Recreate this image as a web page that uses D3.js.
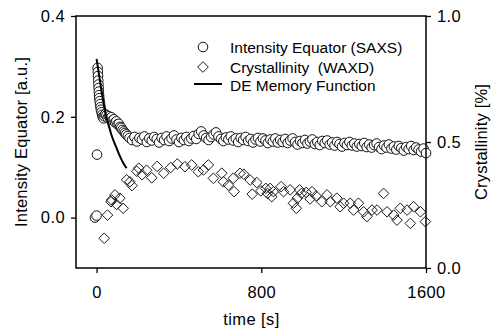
<!DOCTYPE html>
<html>
<head>
<meta charset="utf-8">
<script src="https://cdnjs.cloudflare.com/ajax/libs/d3/7.8.5/d3.min.js"></script>
<style>
  body { margin: 0; background: #fff; }
  svg { display: block; font-family: "Liberation Sans", Arial, sans-serif; }
</style>
</head>
<body>
<svg id="chart" width="495" height="331"></svg>
<script>
// SAXS intensity on the equator, [time s, a.u.]
var saxs = [
  [-8,0.000],[0,0.004],[2,0.125],[5,0.297],[6,0.289],[7,0.281],[8,0.272],[9,0.264],
  [10,0.257],[11,0.250],[12,0.243],[13,0.237],[15,0.231],[17,0.225],[19,0.219],[21,0.214],
  [24,0.209],[27,0.204],[30,0.200],[34,0.197],[38,0.201],[42,0.205],[48,0.203],[54,0.198],
  [60,0.201],[66,0.196],[72,0.199],[78,0.193],[84,0.195],[90,0.189],[96,0.191],[102,0.185],
  [108,0.186],[114,0.180],[120,0.178],[126,0.174],[132,0.171],[138,0.168],[144,0.165],
  [152,0.162],[160,0.158],
  [172,0.154],[184,0.160],[196,0.151],[208,0.158],[220,0.155],[232,0.161],[244,0.150],
  [256,0.157],[268,0.153],[280,0.160],[292,0.156],[304,0.149],[316,0.158],[328,0.154],
  [340,0.161],[352,0.152],[364,0.157],[376,0.163],[388,0.155],[400,0.150],[412,0.158],
  [424,0.154],[436,0.160],[448,0.152],[460,0.157],[472,0.162],[484,0.156],[496,0.166],
  [508,0.171],[520,0.163],[532,0.158],[544,0.154],[556,0.160],[568,0.165],[580,0.169],
  [592,0.161],[604,0.156],[616,0.152],[628,0.159],[640,0.155],[652,0.161],[664,0.153],
  [676,0.157],[688,0.150],[700,0.158],[712,0.154],[724,0.160],[736,0.152],[748,0.156],
  [760,0.149],[772,0.155],[784,0.158],[796,0.151],[808,0.157],[820,0.153],[832,0.148],
  [844,0.155],[856,0.151],[868,0.157],[880,0.149],[892,0.154],[904,0.150],[916,0.156],
  [928,0.148],[940,0.153],[952,0.157],[964,0.150],[976,0.145],[988,0.152],[1000,0.148],
  [1012,0.154],[1024,0.147],[1036,0.151],[1048,0.155],[1060,0.146],[1072,0.150],[1084,0.144],
  [1096,0.152],[1108,0.148],[1120,0.153],[1132,0.145],[1144,0.149],[1156,0.143],[1168,0.150],
  [1180,0.146],[1192,0.141],[1204,0.148],[1216,0.144],[1228,0.150],[1240,0.143],[1252,0.147],
  [1264,0.141],[1276,0.146],[1288,0.142],[1300,0.148],[1312,0.140],[1324,0.145],[1336,0.139],
  [1348,0.144],[1360,0.147],[1372,0.140],[1384,0.136],[1396,0.143],[1408,0.139],[1420,0.145],
  [1432,0.137],[1444,0.141],[1456,0.135],[1468,0.142],[1480,0.138],[1492,0.133],[1504,0.140],
  [1516,0.136],[1528,0.142],[1540,0.134],[1552,0.139],[1564,0.135],[1576,0.131],[1588,0.137],
  [1600,0.128]
];

// WAXD crystallinity, [time s, fraction]
var waxd = [
  [37,0.118],[53,0.210],[70,0.263],[73,0.270],[89,0.290],[97,0.252],[113,0.277],[129,0.237],
  [146,0.350],[162,0.342],[172,0.327],[195,0.384],[205,0.396],[221,0.370],[243,0.388],
  [268,0.358],[294,0.403],[326,0.376],[360,0.399],[392,0.413],[429,0.402],[462,0.409],
  [494,0.382],[519,0.389],[543,0.409],[567,0.356],[608,0.376],[616,0.342],[640,0.329],
  [664,0.356],[668,0.303],[697,0.376],[715,0.372],[746,0.349],[756,0.293],[778,0.339],
  [798,0.306],[822,0.316],[830,0.296],[843,0.316],[851,0.283],[859,0.303],[896,0.323],
  [908,0.303],[940,0.310],[956,0.257],[970,0.237],[975,0.277],[986,0.310],[995,0.296],
  [1018,0.300],[1037,0.274],[1046,0.303],[1066,0.286],[1094,0.263],[1119,0.290],[1135,0.263],
  [1167,0.277],[1183,0.243],[1200,0.257],[1232,0.257],[1248,0.230],[1272,0.257],[1297,0.223],
  [1313,0.204],[1338,0.230],[1362,0.230],[1394,0.296],[1411,0.223],[1443,0.210],[1459,0.190],
  [1475,0.237],[1508,0.230],[1524,0.177],[1540,0.243],[1573,0.223],[1597,0.184]
];

// DE memory function fit, [time s, a.u.]
var deFit = [
  [0,0.315],[10,0.288],[20,0.262],[30,0.236],[40,0.213],[50,0.196],[60,0.181],[70,0.167],
  [80,0.155],[90,0.145],[100,0.135],[110,0.125],[120,0.116],[130,0.108],[146,0.098]
];

var xTicks = [0, 800, 1600];
var yLeftTicks = [0.0, 0.2, 0.4];
var yRightTicks = [0.0, 0.5, 1.0];
var legendLabels = ["Intensity Equator (SAXS)", "Crystallinity  (WAXD)", "DE Memory Function"];

var svg = d3.select("#chart");
var margin = {top: 16, right: 69, bottom: 63, left: 76};
var W = 495 - margin.left - margin.right,
    H = 331 - margin.top - margin.bottom;

var g = svg.append("g")
    .attr("transform", "translate(" + margin.left + "," + margin.top + ")");

var x = d3.scaleLinear().domain([-100, 1600]).range([0, W]);
var yL = d3.scaleLinear().domain([-0.1, 0.4]).range([H, 0]);
var yR = d3.scaleLinear().domain([0, 1]).range([H, 0]);

function styleAxis(sel) {
    sel.select(".domain").remove();
    sel.selectAll(".tick line").attr("stroke", "#000").attr("stroke-width", 1.3);
    sel.selectAll(".tick text")
        .attr("font-size", 16.5)
        .attr("letter-spacing", 0.4)
        .attr("fill", "#000");
}

g.append("g")
    .call(d3.axisLeft(yL).tickValues(yLeftTicks).tickSize(5).tickPadding(6)
        .tickFormat(d3.format(".1f")))
    .call(styleAxis);

g.append("g")
    .attr("transform", "translate(" + W + ",0)")
    .call(d3.axisRight(yR).tickValues(yRightTicks).tickSize(5).tickPadding(6)
        .tickFormat(d3.format(".1f")))
    .call(styleAxis);

g.append("g")
    .attr("transform", "translate(0," + H + ")")
    .call(d3.axisBottom(x).tickValues(xTicks).tickSize(5).tickPadding(13)
        .tickFormat(d3.format("d")))
    .call(styleAxis);

// crystallinity diamonds
var dsz = 5.3;
var diamond = "M0," + (-dsz) + "L" + dsz + ",0L0," + dsz + "L" + (-dsz) + ",0Z";
g.append("g").selectAll("path")
    .data(waxd)
  .enter().append("path")
    .attr("d", diamond)
    .attr("transform", function(d) {
        return "translate(" + x(d[0]) + "," + yR(d[1]) + ")";
    })
    .attr("fill", "none")
    .attr("stroke", "#1a1a1a")
    .attr("stroke-width", 1);

// SAXS circles
g.append("g").selectAll("circle")
    .data(saxs)
  .enter().append("circle")
    .attr("cx", function(d) { return x(d[0]); })
    .attr("cy", function(d) { return yL(d[1]); })
    .attr("r", 4.8)
    .attr("fill", "#fff")
    .attr("stroke", "#111")
    .attr("stroke-width", 1);

// fit line
var line = d3.line()
    .x(function(d) { return x(d[0]); })
    .y(function(d) { return yL(d[1]); })
    .curve(d3.curveMonotoneX);

g.append("path")
    .datum(deFit)
    .attr("d", line)
    .attr("fill", "none")
    .attr("stroke", "#000")
    .attr("stroke-width", 2);

// frame
g.append("rect")
    .attr("width", W).attr("height", H)
    .attr("fill", "none")
    .attr("stroke", "#000")
    .attr("stroke-width", 1.5);

// legend
var lg = svg.append("g");
var legY = [47, 67, 85];
lg.append("circle").attr("cx", 203).attr("cy", legY[0]).attr("r", 4.8)
    .attr("fill", "#fff").attr("stroke", "#111").attr("stroke-width", 1);
lg.append("path")
    .attr("d", diamond)
    .attr("transform", "translate(203," + legY[1] + ")")
    .attr("fill", "none").attr("stroke", "#1a1a1a").attr("stroke-width", 1);
lg.append("line").attr("x1", 194).attr("x2", 222).attr("y1", legY[2] - 1).attr("y2", legY[2] - 1)
    .attr("stroke", "#000").attr("stroke-width", 2);
lg.selectAll("text")
    .data(legendLabels)
  .enter().append("text")
    .attr("x", 230)
    .attr("y", function(d, i) { return legY[i] + 5.5; })
    .attr("font-size", 15.5)
    .attr("xml:space", "preserve")
    .style("white-space", "pre")
    .text(function(d) { return d; });

// axis titles
svg.append("text")
    .attr("transform", "translate(27," + (margin.top + H / 2) + ") rotate(-90)")
    .attr("text-anchor", "middle")
    .attr("font-size", 16.5)
    .attr("letter-spacing", 0.2)
    .text("Intensity Equator [a.u.]");

svg.append("text")
    .attr("transform", "translate(487," + (margin.top + H / 2) + ") rotate(-90)")
    .attr("text-anchor", "middle")
    .attr("font-size", 16.5)
    .attr("letter-spacing", 0.2)
    .text("Crystallinity [%]");

svg.append("text")
    .attr("x", 251.5)
    .attr("y", 325)
    .attr("text-anchor", "middle")
    .attr("font-size", 16.5)
    .attr("letter-spacing", 0.4)
    .text("time [s]");
</script>
</body>
</html>
